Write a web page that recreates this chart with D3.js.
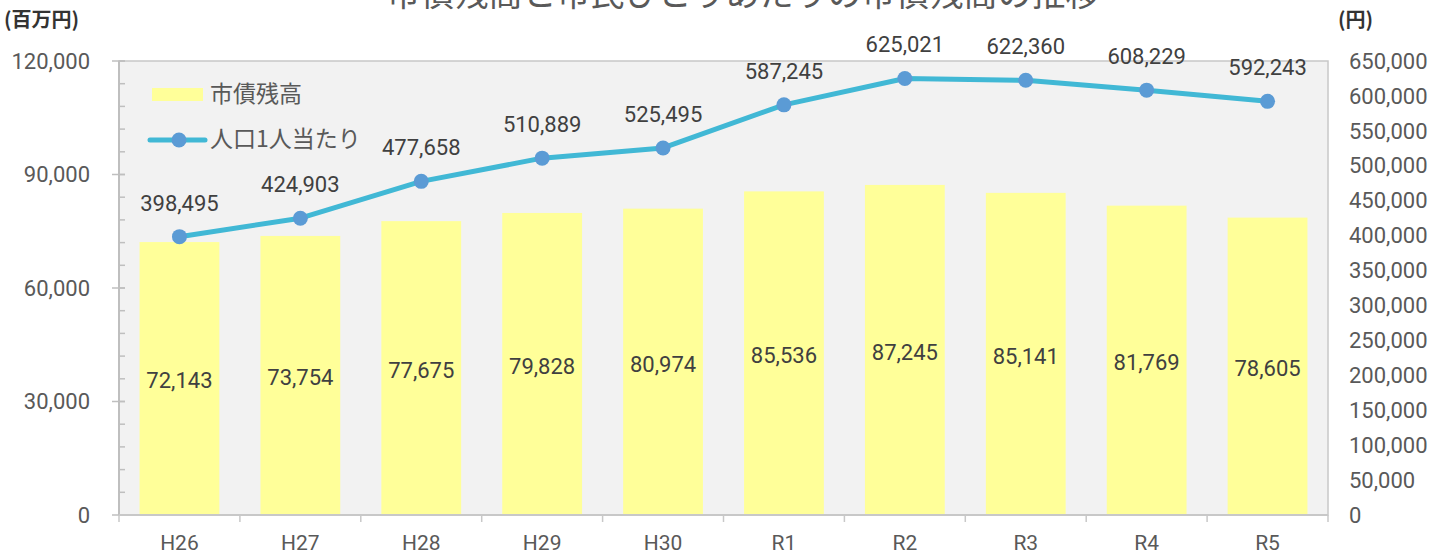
<!DOCTYPE html>
<html><head><meta charset="utf-8">
<script src="https://cdn.jsdelivr.net/npm/d3@7"></script>
<style>
html,body{margin:0;padding:0;background:#fff;}
text{font-family:"Noto Sans CJK JP","Noto Sans",Roboto,sans-serif;}
text.num{font-family:Roboto,"Noto Sans",sans-serif;}
</style></head>
<body><svg id="c" width="1441" height="555"></svg>
<script>
const categories = ["H26","H27","H28","H29","H30","R1","R2","R3","R4","R5"];
const debtValues = [72143,73754,77675,79828,80974,85536,87245,85141,81769,78605];
const perCapitaValues = [398495,424903,477658,510889,525495,587245,625021,622360,608229,592243];
const leftTicks = [0,30000,60000,90000,120000];
const rightTicks = d3.range(0,650001,50000);
const title = "市債残高と市民ひとりあたりの市債残高の推移";
const leftUnit = "(百万円)";
const rightUnit = "(円)";
const seriesNames = ["市債残高","人口1人当たり"];

const svg = d3.select("#c");
const L=119, R=1328, T=61, B=515;
const fmt = d3.format(",");

const x = d3.scaleBand().domain(categories).range([L,R]).padding(0);
const yL = d3.scaleLinear().domain([0,120000]).range([B,T]);
const yR = d3.scaleLinear().domain([0,650000]).range([B,T]);

// plot background
svg.append("rect").attr("x",L).attr("y",T).attr("width",R-L).attr("height",B-T)
  .attr("fill","#F2F2F2").attr("stroke","#C8C8C8").attr("stroke-width",1.5);

// title (cut at top edge as in the reference)
svg.append("text").attr("x",743).attr("y",6).attr("text-anchor","middle")
  .attr("font-size",34).attr("fill","#595959").text(title);

// units
svg.append("text").attr("x",4).attr("y",27).attr("font-size",20).attr("font-weight",700)
  .attr("fill","#333").text(leftUnit);
svg.append("text").attr("x",1338).attr("y",27).attr("font-size",20).attr("font-weight",700)
  .attr("fill","#333").text(rightUnit);

// bars
const bw = x.bandwidth()*0.66;
svg.append("g").selectAll("rect").data(debtValues).join("rect")
  .attr("x",(d,i)=>x(categories[i])+x.bandwidth()/2-bw/2)
  .attr("y",d=>yL(d)).attr("width",bw).attr("height",d=>B-yL(d))
  .attr("fill","#FFFF99");

// left axis
const axL = svg.append("g");
axL.append("line").attr("x1",L).attr("x2",L).attr("y1",T).attr("y2",B).attr("stroke","#BFBFBF").attr("stroke-width",2);
axL.selectAll(".minor").data(d3.range(0,120001,6000)).join("line")
  .attr("x1",L).attr("x2",L+6).attr("y1",d=>yL(d)).attr("y2",d=>yL(d)).attr("stroke","#BFBFBF").attr("stroke-width",1.5);
axL.selectAll(".major").data(leftTicks).join("line")
  .attr("x1",L-7).attr("x2",L+6).attr("y1",d=>yL(d)).attr("y2",d=>yL(d)).attr("stroke","#BFBFBF").attr("stroke-width",1.5);
axL.selectAll("text").data(leftTicks).join("text").attr("class","num")
  .attr("x",90).attr("y",d=>yL(d)).attr("dy","0.35em").attr("text-anchor","end")
  .attr("font-size",22).attr("fill","#595959").text(d=>fmt(d));

// bottom axis
const axB = svg.append("g");
axB.append("line").attr("x1",L).attr("x2",R).attr("y1",B).attr("y2",B).attr("stroke","#C8C8C8").attr("stroke-width",2);
axB.selectAll(".t").data(categories.concat(["end"])).join("line")
  .attr("x1",(d,i)=>L+i*x.step()).attr("x2",(d,i)=>L+i*x.step())
  .attr("y1",B).attr("y2",B+7).attr("stroke","#C8C8C8").attr("stroke-width",1.5);
axB.selectAll("text").data(categories).join("text").attr("class","num")
  .attr("x",d=>x(d)+x.bandwidth()/2).attr("y",543).attr("dy","0.35em").attr("text-anchor","middle")
  .attr("font-size",21).attr("fill","#595959").text(d=>d);

// right axis labels
svg.append("g").selectAll("text").data(rightTicks).join("text").attr("class","num")
  .attr("x",1349).attr("y",d=>yR(d)).attr("dy","0.35em").attr("text-anchor","start")
  .attr("font-size",22).attr("fill","#595959").text(d=>fmt(d));

// bar labels
svg.append("g").selectAll("text").data(debtValues).join("text").attr("class","num")
  .attr("x",(d,i)=>x(categories[i])+x.bandwidth()/2)
  .attr("y",d=>(yL(d)+B)/2+2).attr("dy","0.35em").attr("text-anchor","middle")
  .attr("font-size",22).attr("fill","#404040").text(d=>fmt(d));

// line
const line = d3.line().x((d,i)=>x(categories[i])+x.bandwidth()/2).y(d=>yR(d));
svg.append("path").datum(perCapitaValues).attr("d",line).attr("fill","none")
  .attr("stroke","#41B8D5").attr("stroke-width",5).attr("stroke-linejoin","round");
svg.append("g").selectAll("circle").data(perCapitaValues).join("circle")
  .attr("cx",(d,i)=>x(categories[i])+x.bandwidth()/2).attr("cy",d=>yR(d)).attr("r",7.5)
  .attr("fill","#5B9BD5");
svg.append("g").selectAll("text").data(perCapitaValues).join("text").attr("class","num")
  .attr("x",(d,i)=>x(categories[i])+x.bandwidth()/2).attr("y",d=>yR(d)-26)
  .attr("text-anchor","middle").attr("font-size",22).attr("fill","#404040").text(d=>fmt(d));

// legend
const lg = svg.append("g");
lg.append("rect").attr("x",152).attr("y",88).attr("width",51).attr("height",13).attr("fill","#FFFF99");
lg.append("text").attr("x",210).attr("y",94).attr("dy","0.35em").attr("font-size",23).attr("fill","#595959").text(seriesNames[0]);
lg.append("line").attr("x1",150).attr("x2",205).attr("y1",140).attr("y2",140).attr("stroke","#41B8D5").attr("stroke-width",5).attr("stroke-linecap","round");
lg.append("circle").attr("cx",179).attr("cy",140).attr("r",7.5).attr("fill","#5B9BD5");
lg.append("text").attr("x",210).attr("y",139).attr("dy","0.35em").attr("font-size",23).attr("fill","#595959").text(seriesNames[1]);
</script></body></html>
